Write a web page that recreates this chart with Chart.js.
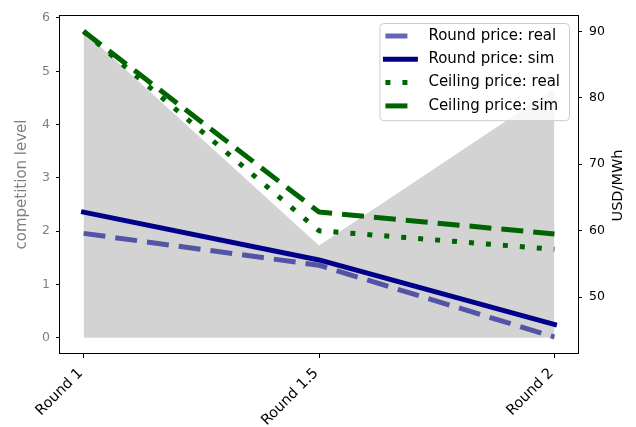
<!DOCTYPE html>
<html>
<head>
<meta charset="utf-8">
<script src="https://cdn.jsdelivr.net/npm/chart.js@4.4.1/dist/chart.umd.min.js"></script>
<style>
  html, body { margin: 0; padding: 0; background: #fff; }
  #wrap { width: 636px; height: 427px; }
</style>
</head>
<body>
<div id="wrap"><canvas id="c" width="636" height="427"></canvas></div>
<script>
// Auction rounds and the values plotted for each of them
const categories = ['Round 1', 'Round 1.5', 'Round 2'];
const competitionLevel = [5.75, 1.73, 4.67];
const roundPriceReal = [59.6, 54.8, 44.0];
const roundPriceSim = [62.8, 55.6, 45.9];
const ceilingPriceReal = [90.0, 60.0, 57.2];
const ceilingPriceSim = [90.0, 62.8, 59.5];

// Tick values for the two value axes
const levelTicks = [0, 1, 2, 3, 4, 5, 6];
const priceTicks = [50, 60, 70, 80, 90];

const FONT = "'DejaVu Sans', sans-serif";
const NAVY = '#00008b';
const NAVY_FADED = 'rgba(0, 0, 139, 0.6)';
const GREEN = '#006400';

const toPoints = arr => arr.map((y, i) => ({ x: i, y }));

const seriesLegend = [
  { label: 'Round price: real', color: NAVY_FADED, dash: [22, 10], cap: 'butt' },
  { label: 'Round price: sim', color: NAVY, dash: [], cap: 'square' },
  { label: 'Ceiling price: real', color: GREEN, dash: [5, 12], cap: 'butt' },
  { label: 'Ceiling price: sim', color: GREEN, dash: [22, 10], cap: 'butt' }
];

const lineStyle = (s) => ({
  borderColor: s.color,
  borderDash: s.dash,
  borderCapStyle: s.cap,
  borderJoinStyle: 'round',
  borderWidth: 5,
  pointRadius: 0,
  tension: 0,
  fill: false,
  yAxisID: 'yR'
});

// Frame, right-hand axis title and the legend box
const decor = {
  id: 'decor',
  afterDraw(chart) {
    const { ctx, chartArea: a } = chart;
    ctx.save();

    // axes frame
    ctx.strokeStyle = '#000';
    ctx.lineWidth = 1;
    ctx.strokeRect(Math.round(a.left) - 0.5, Math.round(a.top) - 0.5,
                   Math.round(a.right - a.left) + 1, Math.round(a.bottom - a.top) + 1);

    // right axis title, reading bottom to top
    ctx.save();
    ctx.translate(a.right + 40, (a.top + a.bottom) / 2 + 1);
    ctx.rotate(-Math.PI / 2);
    ctx.fillStyle = '#000';
    ctx.font = '14.5px ' + FONT;
    ctx.textAlign = 'center';
    ctx.textBaseline = 'middle';
    ctx.fillText('USD/MWh', 0, 0);
    ctx.restore();

    // legend
    ctx.font = '15px ' + FONT;
    const textW = Math.max(...seriesLegend.map(s => ctx.measureText(s.label).width));
    const boxR = a.right - 9;
    const boxW = textW + 58;
    const boxL = boxR - boxW;
    const boxT = a.top + 7;
    const rowH = 23.3;
    const boxH = rowH * seriesLegend.length + 4;
    ctx.beginPath();
    ctx.roundRect(boxL + 0.5, boxT + 0.5, boxW, boxH, 4);
    ctx.fillStyle = 'rgba(255,255,255,0.8)';
    ctx.fill();
    ctx.strokeStyle = '#cccccc';
    ctx.lineWidth = 1;
    ctx.stroke();

    seriesLegend.forEach((s, i) => {
      const cy = boxT + 13 + i * rowH;
      ctx.save();
      ctx.strokeStyle = s.color;
      ctx.lineWidth = 5;
      ctx.lineCap = s.cap;
      ctx.setLineDash(s.dash);
      ctx.beginPath();
      ctx.moveTo(boxL + 6, cy);
      ctx.lineTo(boxL + 36, cy);
      ctx.stroke();
      ctx.restore();
      ctx.fillStyle = '#000';
      ctx.textAlign = 'left';
      ctx.textBaseline = 'middle';
      ctx.fillText(s.label, boxL + 49, cy);
    });

    ctx.restore();
  }
};

const datasets = [
  Object.assign({ label: seriesLegend[3].label, data: toPoints(ceilingPriceSim) }, lineStyle(seriesLegend[3])),
  Object.assign({ label: seriesLegend[2].label, data: toPoints(ceilingPriceReal) }, lineStyle(seriesLegend[2])),
  Object.assign({ label: seriesLegend[1].label, data: toPoints(roundPriceSim) }, lineStyle(seriesLegend[1])),
  Object.assign({ label: seriesLegend[0].label, data: toPoints(roundPriceReal) }, lineStyle(seriesLegend[0])),
  {
    label: 'competition level',
    data: toPoints(competitionLevel),
    yAxisID: 'yL',
    fill: 'origin',
    backgroundColor: '#d3d3d3',
    borderColor: 'rgba(0,0,0,0)',
    borderWidth: 1,
    pointRadius: 0,
    tension: 0
  }
];

new Chart(document.getElementById('c'), {
  type: 'line',
  data: { datasets },
  plugins: [decor],
  options: {
    responsive: false,
    animation: false,
    devicePixelRatio: 1,
    layout: { padding: { top: 16, left: 0, right: 0, bottom: 0 } },
    plugins: { legend: { display: false }, tooltip: { enabled: false } },
    scales: {
      x: {
        type: 'linear',
        min: -0.1,
        max: 2.1,
        afterBuildTicks: s => { s.ticks = categories.map((_, i) => ({ value: i })); },
        afterFit: s => { s.height = 74; },
        ticks: {
          callback: v => categories[Math.round(v)],
          minRotation: 45,
          maxRotation: 45,
          autoSkip: false,
          color: '#000',
          font: { family: FONT, size: 14.5 },
          padding: 7,
          labelOffset: -3
        },
        grid: { drawOnChartArea: false, drawTicks: true, tickLength: 5, tickColor: '#000' },
        border: { display: false }
      },
      yL: {
        position: 'left',
        min: -0.2875,
        max: 6.0375,
        afterBuildTicks: s => { s.ticks = levelTicks.map(v => ({ value: v })); },
        afterFit: s => { s.width = 60; },
        ticks: { color: '#808080', font: { family: FONT, size: 12.5 }, padding: 6 },
        grid: { drawOnChartArea: false, drawTicks: true, tickLength: 4, tickColor: '#000' },
        border: { display: false },
        title: {
          display: true,
          text: 'competition level',
          color: '#808080',
          font: { family: FONT, size: 15 },
          padding: { top: 13, bottom: 0 }
        }
      },
      yR: {
        position: 'right',
        min: 41.6,
        max: 92.3,
        afterBuildTicks: s => { s.ticks = priceTicks.map(v => ({ value: v })); },
        afterFit: s => { s.width = 58; },
        ticks: { color: '#000', font: { family: FONT, size: 12.5 }, padding: 7 },
        grid: { drawOnChartArea: false, drawTicks: true, tickLength: 4, tickColor: '#000' },
        border: { display: false }
      }
    }
  }
});
</script>
</body>
</html>
